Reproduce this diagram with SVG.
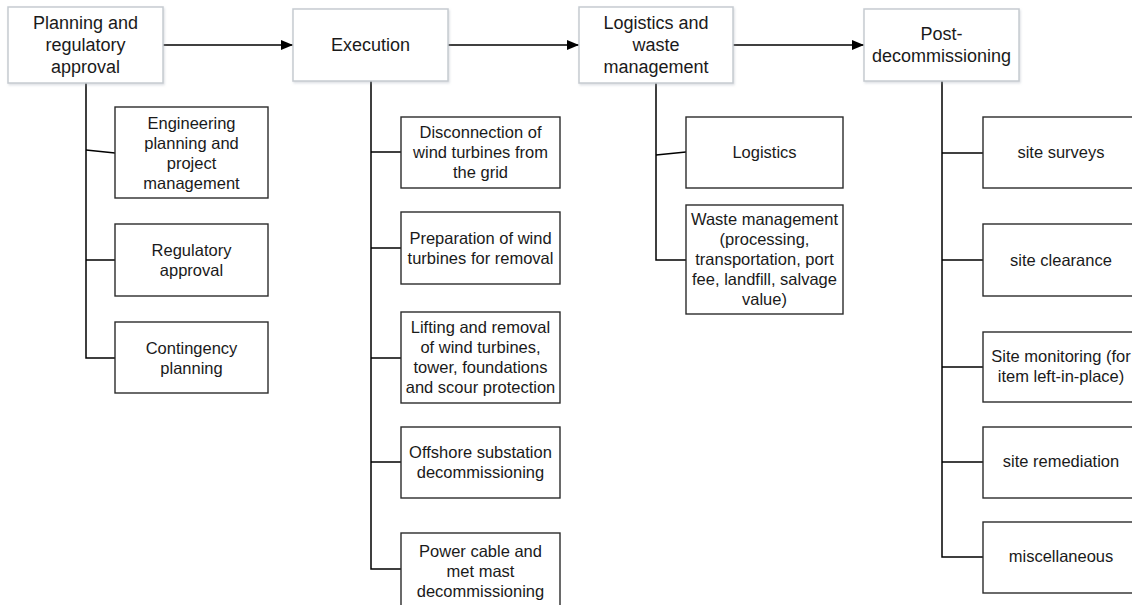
<svg xmlns="http://www.w3.org/2000/svg" width="1132" height="605" viewBox="0 0 1132 605">
<style>
.hd{fill:#fff;stroke:#c6cbd1;stroke-width:1.5}
.sb{fill:#fff;stroke:#2b2b2b;stroke-width:1.4}
.ht{font-family:"Liberation Sans",Arial,sans-serif;font-size:18px;fill:#1a1a1a;text-anchor:middle}
.st{font-family:"Liberation Sans",Arial,sans-serif;font-size:16.5px;fill:#1a1a1a;text-anchor:middle}
.cn{fill:none;stroke:#000;stroke-width:1.5}
</style>
<defs>
<marker id="ah" viewBox="0 0 12 10" refX="12" refY="5" markerWidth="12" markerHeight="10" markerUnits="userSpaceOnUse" orient="auto">
<path d="M0,0 L12,5 L0,10 z" fill="#000"/>
</marker>
<filter id="sh" x="-5%" y="-5%" width="115%" height="120%">
<feDropShadow dx="1" dy="1.5" stdDeviation="1" flood-color="#9aa4b0" flood-opacity="0.35"/>
</filter>
</defs>
<rect width="1132" height="605" fill="#fff"/>
<g id="connectors">
<path class="cn" d="M163,45 H293" marker-end="url(#ah)"/>
<path class="cn" d="M448,45 H579" marker-end="url(#ah)"/>
<path class="cn" d="M733,45 H864" marker-end="url(#ah)"/>
<path class="cn" d="M86,83 V358 H115"/>
<path class="cn" d="M86,150 L115,153"/>
<path class="cn" d="M86,260 H115"/>
<path class="cn" d="M371,81 V569 H401"/>
<path class="cn" d="M371,152 H401"/>
<path class="cn" d="M371,248 H401"/>
<path class="cn" d="M371,358 H401"/>
<path class="cn" d="M371,462 H401"/>
<path class="cn" d="M656,83 V260 H686"/>
<path class="cn" d="M656,155 L686,152"/>
<path class="cn" d="M942,81 V557 H983"/>
<path class="cn" d="M942,153 H983"/>
<path class="cn" d="M942,260 H983"/>
<path class="cn" d="M942,367 H983"/>
<path class="cn" d="M942,462 H983"/>
</g>
<g id="planning">
<rect class="hd" x="8" y="7" width="155" height="76" filter="url(#sh)"/>
<text class="ht"><tspan x="85.5" y="29">Planning and</tspan><tspan x="85.5" y="51">regulatory</tspan><tspan x="85.5" y="73">approval</tspan></text>
</g>
<g id="execution">
<rect class="hd" x="293" y="9" width="155" height="72" filter="url(#sh)"/>
<text class="ht" x="370.5" y="51">Execution</text>
</g>
<g id="logistics-waste">
<rect class="hd" x="579" y="7" width="154" height="76" filter="url(#sh)"/>
<text class="ht"><tspan x="656" y="29">Logistics and</tspan><tspan x="656" y="51">waste</tspan><tspan x="656" y="73">management</tspan></text>
</g>
<g id="post">
<rect class="hd" x="864" y="9" width="155" height="72" filter="url(#sh)"/>
<text class="ht"><tspan x="941.5" y="40">Post-</tspan><tspan x="941.5" y="62">decommissioning</tspan></text>
</g>
<g id="engineering">
<rect class="sb" x="115" y="107" width="153" height="91"/>
<text class="st"><tspan x="191.5" y="129">Engineering</tspan><tspan x="191.5" y="149">planning and</tspan><tspan x="191.5" y="169">project</tspan><tspan x="191.5" y="189">management</tspan></text>
</g>
<g id="regulatory">
<rect class="sb" x="115" y="224" width="153" height="72"/>
<text class="st"><tspan x="191.5" y="256">Regulatory</tspan><tspan x="191.5" y="276">approval</tspan></text>
</g>
<g id="contingency">
<rect class="sb" x="115" y="322" width="153" height="71"/>
<text class="st"><tspan x="191.5" y="353.5">Contingency</tspan><tspan x="191.5" y="373.5">planning</tspan></text>
</g>
<g id="disconnection">
<rect class="sb" x="401" y="117" width="159" height="71"/>
<text class="st"><tspan x="480.5" y="138">Disconnection of</tspan><tspan x="480.5" y="158">wind turbines from</tspan><tspan x="480.5" y="178">the grid</tspan></text>
</g>
<g id="preparation">
<rect class="sb" x="401" y="212" width="159" height="72"/>
<text class="st"><tspan x="480.5" y="243.5">Preparation of wind</tspan><tspan x="480.5" y="263.5">turbines for removal</tspan></text>
</g>
<g id="lifting">
<rect class="sb" x="401" y="312" width="159" height="91"/>
<text class="st"><tspan x="480.5" y="332.5">Lifting and removal</tspan><tspan x="480.5" y="352.5">of wind turbines,</tspan><tspan x="480.5" y="373">tower, foundations</tspan><tspan x="480.5" y="393">and scour protection</tspan></text>
</g>
<g id="offshore">
<rect class="sb" x="401" y="427" width="159" height="71"/>
<text class="st"><tspan x="480.5" y="458">Offshore substation</tspan><tspan x="480.5" y="478">decommissioning</tspan></text>
</g>
<g id="power">
<rect class="sb" x="401" y="533" width="159" height="75"/>
<text class="st"><tspan x="480.5" y="557">Power cable and</tspan><tspan x="480.5" y="577">met mast</tspan><tspan x="480.5" y="597">decommissioning</tspan></text>
</g>
<g id="logistics">
<rect class="sb" x="686" y="117" width="157" height="71"/>
<text class="st" x="764.5" y="158">Logistics</text>
</g>
<g id="waste">
<rect class="sb" x="686" y="205" width="157" height="109"/>
<text class="st"><tspan x="764.5" y="225">Waste management</tspan><tspan x="764.5" y="245">(processing,</tspan><tspan x="764.5" y="265">transportation, port</tspan><tspan x="764.5" y="285">fee, landfill, salvage</tspan><tspan x="764.5" y="305">value)</tspan></text>
</g>
<g id="surveys">
<rect class="sb" x="983" y="117" width="157" height="71"/>
<text class="st" x="1061" y="158">site surveys</text>
</g>
<g id="clearance">
<rect class="sb" x="983" y="224" width="157" height="72"/>
<text class="st" x="1061" y="266">site clearance</text>
</g>
<g id="monitoring">
<rect class="sb" x="983" y="332" width="157" height="70"/>
<text class="st"><tspan x="1061" y="362">Site monitoring (for</tspan><tspan x="1061" y="382">item left-in-place)</tspan></text>
</g>
<g id="remediation">
<rect class="sb" x="983" y="427" width="157" height="71"/>
<text class="st" x="1061" y="467">site remediation</text>
</g>
<g id="misc">
<rect class="sb" x="983" y="522" width="157" height="71"/>
<text class="st" x="1061" y="562">miscellaneous</text>
</g>
</svg>
